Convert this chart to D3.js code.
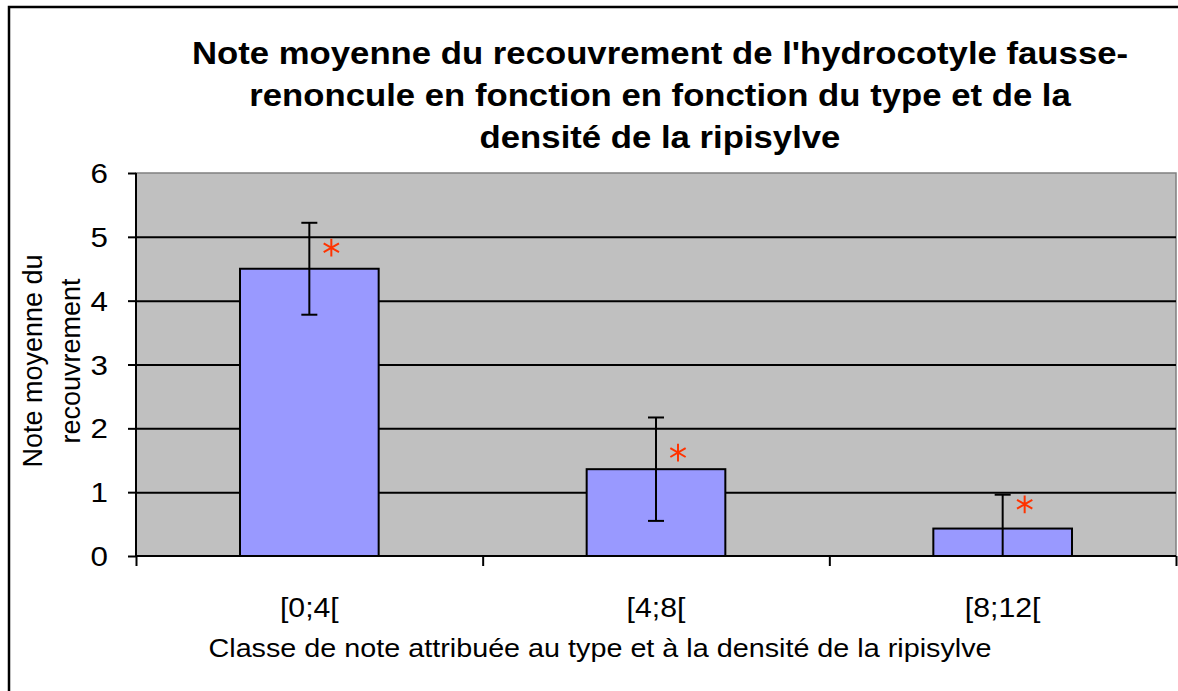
<!DOCTYPE html>
<html>
<head>
<meta charset="utf-8">
<script src="https://cdn.jsdelivr.net/npm/d3@7"></script>
<style>
  body { margin: 0; background: #fff; }
  text { font-family: "Liberation Sans", Arial, sans-serif; }
</style>
</head>
<body>
<svg id="chart" width="1178" height="691"></svg>
<script>
// data
const categories = ['[0;4[', '[4;8[', '[8;12['];
const means = [4.5, 1.36, 0.43];
const errors = [0.72, 0.81, 0.53];
const starValues = [4.83, 1.62, 0.81];
const yTicks = [0, 1, 2, 3, 4, 5, 6];
const titleLines = [
  "Note moyenne du recouvrement de l'hydrocotyle fausse-",
  "renoncule en fonction en fonction du type et de la",
  "densité de la ripisylve"
];
const yTitleLines = ['Note moyenne du', 'recouvrement'];
const xTitle = 'Classe de note attribuée au type et à la densité de la ripisylve';

const width = 1178, height = 691;
const margin = {left: 136, top: 173, right: 2, bottom: 135};
const stretch = 1.12; // picture is a bit wider than tall

const svg = d3.select('#chart');

// outer frame (cut off on the right and bottom)
svg.append('rect')
  .attr('x', 9).attr('y', 7)
  .attr('width', 1180).attr('height', 700)
  .attr('fill', 'none').attr('stroke', '#000').attr('stroke-width', 2.5);

const x = d3.scaleBand()
  .domain(categories)
  .range([margin.left, width - margin.right])
  .paddingInner(0.6).paddingOuter(0.3);
const xb = d3.scaleLinear().domain([0, 3]).range([margin.left, width - margin.right]);
const y = d3.scaleLinear().domain([0, 6]).range([height - margin.bottom, margin.top]);

// plot area
svg.append('rect')
  .attr('x', margin.left).attr('y', y(6))
  .attr('width', xb(3) - margin.left).attr('height', y(0) - y(6))
  .attr('fill', '#C0C0C0').attr('stroke', '#808080').attr('stroke-width', 1.5);

// gridlines
svg.append('g')
  .attr('transform', `translate(${margin.left},0)`)
  .call(d3.axisLeft(y).tickValues([1, 2, 3, 4, 5]).tickSize(-(xb(3) - margin.left)).tickFormat(''))
  .call(g => g.select('.domain').remove())
  .selectAll('line').attr('stroke', '#000').attr('stroke-width', 2);

// y axis
const yAxis = svg.append('g')
  .attr('transform', `translate(${margin.left},0)`)
  .call(d3.axisLeft(y).tickValues(yTicks).tickSize(8).tickPadding(0).tickFormat(''));
yAxis.select('.domain').attr('stroke', '#000').attr('stroke-width', 2).attr('d', `M0,${y(6)}V${y(0)}`);
yAxis.selectAll('.tick line').attr('stroke', '#000').attr('stroke-width', 2);

svg.selectAll('text.ytick')
  .data(yTicks)
  .enter().append('text')
  .attr('class', 'ytick')
  .attr('transform', d => `translate(108,${y(d) + 10}) scale(${stretch},1)`)
  .attr('text-anchor', 'end')
  .attr('font-size', 28)
  .text(d => d);

// bars
svg.selectAll('rect.bar')
  .data(means)
  .enter().append('rect')
  .attr('class', 'bar')
  .attr('x', (d, i) => x(categories[i]))
  .attr('y', d => y(d))
  .attr('width', x.bandwidth())
  .attr('height', d => y(0) - y(d))
  .attr('fill', '#9999FF')
  .attr('stroke', '#000').attr('stroke-width', 2);

// error bars
const cx = i => x(categories[i]) + x.bandwidth() / 2;
const eb = svg.append('g').attr('stroke', '#000').attr('stroke-width', 2);
means.forEach((m, i) => {
  const lo = Math.max(0, m - errors[i]), hi = m + errors[i];
  eb.append('line').attr('x1', cx(i)).attr('x2', cx(i)).attr('y1', y(lo)).attr('y2', y(hi));
  eb.append('line').attr('x1', cx(i) - 8).attr('x2', cx(i) + 8).attr('y1', y(hi)).attr('y2', y(hi));
  if (m - errors[i] > 0)
    eb.append('line').attr('x1', cx(i) - 8).attr('x2', cx(i) + 8).attr('y1', y(lo)).attr('y2', y(lo));
});

// x axis
const xAxis = svg.append('g')
  .attr('transform', `translate(0,${y(0)})`)
  .call(d3.axisBottom(xb).tickValues([0, 1, 2, 3]).tickSize(10).tickFormat(''));
xAxis.select('.domain').attr('stroke', '#000').attr('stroke-width', 2).attr('d', `M${xb(0)},0H${xb(3)}`);
xAxis.selectAll('.tick line').attr('stroke', '#000').attr('stroke-width', 2);

// significance stars
svg.selectAll('path.star')
  .data(starValues)
  .enter().append('path')
  .attr('class', 'star')
  .attr('transform', (d, i) => `translate(${cx(i) + 22},${y(d)})`)
  .attr('d', d3.symbol(d3.symbolAsterisk, 220))
  .attr('fill', 'none').attr('stroke', '#FF3300').attr('stroke-width', 2);

// category labels
svg.selectAll('text.cat')
  .data(categories)
  .enter().append('text')
  .attr('class', 'cat')
  .attr('transform', d => `translate(${x(d) + x.bandwidth() / 2},617) scale(${stretch},1)`)
  .attr('text-anchor', 'middle')
  .attr('font-size', 27)
  .text(d => d);

// x title
svg.append('text')
  .attr('transform', `translate(600,657) scale(1.15,1)`)
  .attr('text-anchor', 'middle')
  .attr('font-size', 25)
  .text(xTitle);

// y title
const yt = svg.append('text')
  .attr('transform', 'translate(0,361) rotate(-90)')
  .attr('text-anchor', 'middle')
  .attr('font-size', 27);
yTitleLines.forEach((l, i) => {
  yt.append('tspan').attr('x', 0).attr('y', 42 + i * 38).text(l);
});

// title
svg.selectAll('text.title')
  .data(titleLines)
  .enter().append('text')
  .attr('class', 'title')
  .attr('transform', (d, i) => `translate(660,${64 + i * 42}) scale(${stretch},1)`)
  .attr('text-anchor', 'middle')
  .attr('font-size', 31)
  .attr('font-weight', 'bold')
  .text(d => d);
</script>
</body>
</html>
